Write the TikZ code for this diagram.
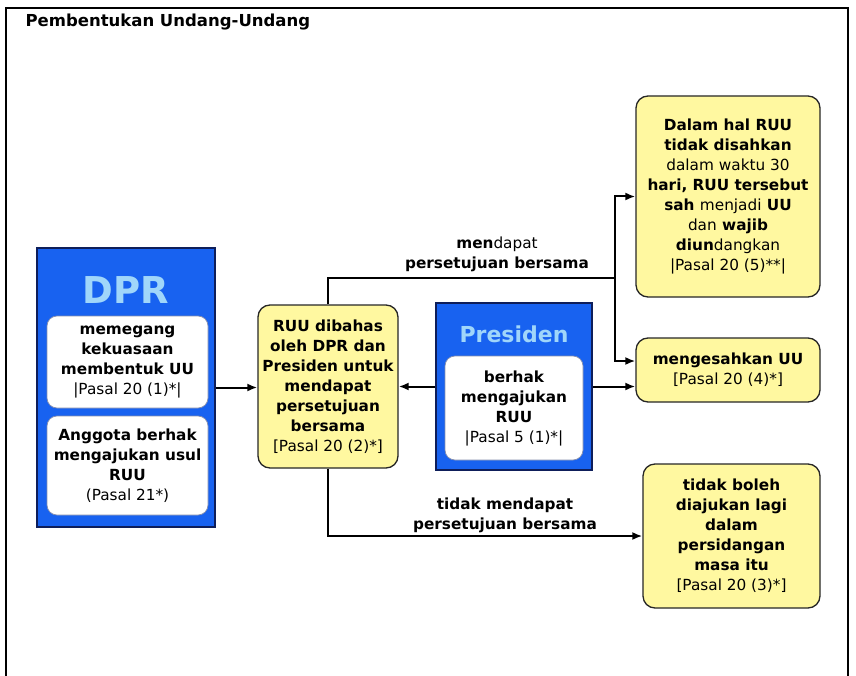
\documentclass[tikz,border=0pt]{standalone}
\usepackage{fontspec}
\setmainfont{DejaVu Sans}
\usetikzlibrary{arrows.meta}

\definecolor{biru}{RGB}{24,98,240}
\definecolor{birutua}{RGB}{14,30,90}
\definecolor{birumuda}{RGB}{160,214,250}
\definecolor{kuning}{RGB}{255,248,160}

\tikzset{
  kotakbiru/.style={draw=birutua, line width=2pt, fill=biru, inner sep=0pt},
  kotakputih/.style={draw=birutua!50, line width=0.7pt, fill=white, rounded corners=10pt,
    align=center, inner sep=0pt},
  kotakkuning/.style={draw=black!85, line width=1.3pt, fill=kuning, rounded corners=12pt,
    align=center, inner sep=0pt},
  panah/.style={-{Latex[length=10pt,width=8pt]}, line width=2pt},
  garis/.style={line width=2pt},
}

\begin{document}
\begin{tikzpicture}[x=1pt, y=-1pt, font=\fontsize{15.3}{20}\selectfont\bfseries]
  \useasboundingbox (0,0) rectangle (856,676);
  \draw[line width=1.8pt] (6,676) -- (6,8) -- (848,8) -- (848,676); % bingkai
  \node[anchor=west, font=\fontsize{16.5}{19}\selectfont\bfseries] (judul) at (22,22)
    {Pembentukan Undang-Undang};

  % DPR
  \node[kotakbiru, minimum width=178pt, minimum height=279pt] (dpr) at (126,387.5) {};
  \node[text=birumuda, font=\fontsize{37}{37}\selectfont\bfseries] (dprlabel) at (126,290) {DPR};
  \node[kotakputih, minimum width=161pt, minimum height=92pt] (dpra) at (127.5,362)
    {memegang\\kekuasaan\\membentuk UU\\{\mdseries |Pasal 20 (1)*|}};
  \node[kotakputih, minimum width=161pt, minimum height=99pt] (dprb) at (127.5,465.5)
    {Anggota berhak\\mengajukan usul\\RUU\\{\mdseries (Pasal 21*)}};

  % pembahasan
  \node[kotakkuning, minimum width=140pt, minimum height=163pt] (ruu) at (328,386.5)
    {RUU dibahas\\oleh DPR dan\\Presiden untuk\\mendapat\\persetujuan\\bersama\\{\mdseries [Pasal 20 (2)*]}};

  % Presiden
  \node[kotakbiru, minimum width=156pt, minimum height=167pt] (pres) at (514,386.5) {};
  \node[text=birumuda, font=\fontsize{22}{22}\selectfont\bfseries] (preslabel) at (514,334) {Presiden};
  \node[kotakputih, minimum width=138pt, minimum height=104pt] (presa) at (514,408)
    {berhak\\mengajukan\\RUU\\{\mdseries |Pasal 5 (1)*|}};

  % hasil
  \node[kotakkuning, minimum width=184pt, minimum height=201pt] (sah5) at (728,196.5)
    {Dalam hal RUU\\tidak disahkan\\{\mdseries dalam waktu 30}\\hari, RUU tersebut\\sah {\mdseries menjadi} UU\\{\mdseries dan} wajib\\diun{\mdseries dangkan}\\{\mdseries |Pasal 20 (5)**|}};
  \node[kotakkuning, minimum width=184pt, minimum height=64pt] (sah4) at (728,370)
    {mengesahkan UU\\{\mdseries [Pasal 20 (4)*]}};
  \node[kotakkuning, minimum width=177pt, minimum height=144pt] (tolak) at (731.5,536)
    {tidak boleh\\diajukan lagi\\dalam\\persidangan\\masa itu\\{\mdseries [Pasal 20 (3)*]}};

  % panah
  \coordinate (cabang) at (615,278);
  \draw[panah] (dpr.east) -- (dpr.east -| ruu.west);
  \draw[panah] (pres.west) -- (pres.west -| ruu.east);
  \draw[panah] (pres.east) -- (pres.east -| sah4.west);
  \draw[garis] (ruu.north) |- (cabang);
  \draw[panah] (cabang) |- (sah5.west);
  \draw[panah] (cabang) |- ([yshift=9pt]sah4.west);
  \draw[panah] (ruu.south) |- (tolak.west);

  \node[align=center] (setuju) at (497,254) {men{\mdseries dapat}\\persetujuan bersama};
  \node[align=center] (tidaksetuju) at (505,515) {tidak mendapat\\persetujuan bersama};
\end{tikzpicture}
\end{document}
